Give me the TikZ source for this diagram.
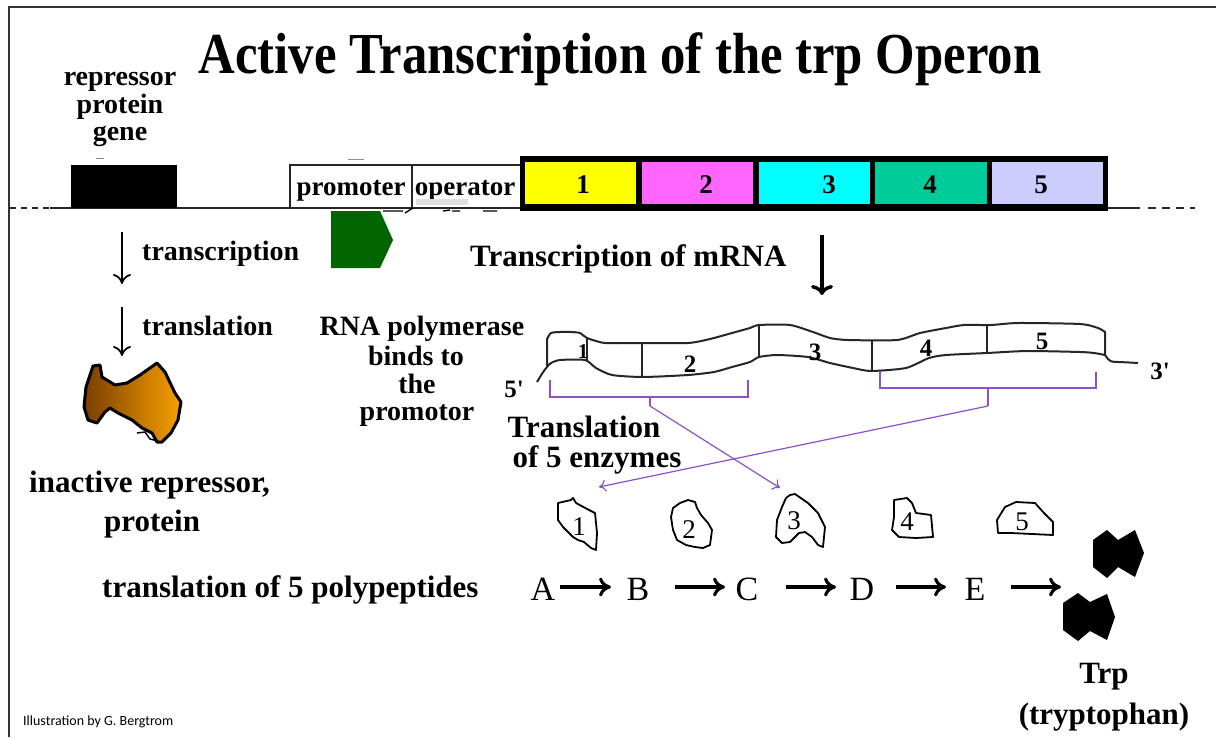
\documentclass[tikz,border=0pt]{standalone}
\usepackage{graphicx}
\usepackage{fontspec}
\setmainfont{Liberation Serif}
\newfontfamily\primefont[Ligatures=TeXOff]{Liberation Serif}
\newfontfamily\creditfont{Carlito}
\usetikzlibrary{arrows.meta}
\definecolor{cellA}{HTML}{FFFF00}
\definecolor{cellB}{HTML}{FF66FF}
\definecolor{cellC}{HTML}{00FFFF}
\definecolor{cellD}{HTML}{00CC99}
\definecolor{cellE}{HTML}{CCCCFF}
\definecolor{polgreen}{HTML}{006400}
\definecolor{brace}{RGB}{140,80,200}
\definecolor{repdark}{HTML}{7A3E00}
\definecolor{replight}{HTML}{F7A000}
\begin{document}
\begin{tikzpicture}[x=1pt,y=-1pt,
  bf/.style={inner sep=0pt,anchor=base,font=\fontsize{#1}{#1}\selectfont\bfseries},
  rm/.style={inner sep=0pt,anchor=base,font=\fontsize{#1}{#1}\selectfont},
  endlabel/.style={inner sep=0pt,anchor=base,font=\primefont\fontsize{25}{25}\selectfont\bfseries},
  dnaline/.style={line width=2pt,black!85},
  downarrow/.style={line width=1.8pt,-{To[length=10pt,width=18pt]}},
  rxnarrow/.style={line width=3.2pt,-{To[length=12pt,width=19pt]}},
  bracket/.style={brace,line width=1.3pt},
  bracearrow/.style={brace,line width=1.2pt,-{To[length=7pt,width=12pt]}},
  strip/.style={line width=2pt,black!85,line join=round},
  enzyme/.style={line width=1.8pt,black,line join=round},
  trpmol/.style={fill=black},
  tick/.style={line width=1pt,black!45}]
\useasboundingbox (0,0) rectangle (1216,737);

% frame
\draw[line width=1.5pt,black!80] (9,737) -- (9,7) -- (1216,7);

% title
\node[anchor=base,inner sep=0pt] (title) at (620,73)
  {\scalebox{0.875}[1]{\fontsize{58}{58}\selectfont\bfseries Active Transcription of the trp Operon}};

% repressor gene label
\node[bf=28] (rep1) at (120,85) {repressor};
\node[bf=28] (rep2) at (120,113) {protein};
\node[bf=28] (rep3) at (120,140) {gene};
\draw[tick] (96,158) -- (104,158);
\draw[tick] (348,159) -- (364,159);

% DNA line
\draw[dnaline,dash pattern=on 6pt off 5pt] (10,208) -- (50,208);
\draw[dnaline] (50,208) -- (1140,208);
\draw[dnaline,dash pattern=on 8pt off 6pt] (1148,208) -- (1195,208);

% repressor gene
\fill[black] (71,165) rectangle (177,208);

% promoter / operator
\draw[line width=1.5pt,black!85] (290,208) -- (290,165) -- (520,165);
\draw[line width=1.5pt,black!85] (412,165) -- (412,208);
\node[bf=27] (prom) at (351,195) {promoter};
\node[bf=27] (oper) at (465,195) {operator};
\fill[black!12] (416,199) rectangle (468,205);
\draw[line width=1.4pt] (383,211) -- (403,211) (405,213) .. controls (409,211) and (410,209) .. (413,208)
  (443,211) -- (450,210) (452,211) -- (460,211) (483,211) -- (497,211);

% structural genes
\fill[black] (520,156) rectangle (1108,211);
\fill[cellA] (525,162) rectangle (636,204);
\fill[cellB] (642,162) rectangle (753,204);
\fill[cellC] (759,162) rectangle (870,204);
\fill[cellD] (875,162) rectangle (987,204);
\fill[cellE] (992,162) rectangle (1103,204);
\node[bf=27] (g1) at (583,193) {1};
\node[bf=27] (g2) at (706,193) {2};
\node[bf=27] (g3) at (829,193) {3};
\node[bf=27] (g4) at (930,193) {4};
\node[bf=27] (g5) at (1041,193) {5};

% RNA polymerase
\fill[polgreen] (331,211) -- (380,211) -- (393,240) -- (380,268) -- (331,268) -- cycle;

% repressor pathway
\coordinate (t1a) at (122,232); \coordinate (t1b) at (122,284);
\coordinate (t2a) at (122,307); \coordinate (t2b) at (122,356);
\draw[downarrow] (t1a) -- (t1b);
\draw[downarrow] (t2a) -- (t2b);
\node[bf=28,anchor=base west] (txc) at (142,260) {transcription};
\node[bf=28,anchor=base west] (tlc) at (142,335) {translation};

% inactive repressor protein
\draw[line width=3pt,left color=repdark,right color=replight,line join=round]
  (93,366) -- (100,365) -- (102,377) -- (115,385) -- (127,383) -- (140,375) -- (157,363)
  -- (165,372) -- (175,393) -- (181,402) -- (178,420) -- (171,433) -- (162,442) -- (157,442)
  -- (152,433) -- (142,428) -- (132,420) -- (118,413) -- (110,408) -- (105,412) -- (97,423)
  -- (88,420) -- (84,407) -- (86,387) -- cycle;
\draw[line width=1.5pt] (137,433) -- (145,432) -- (150,439) -- (158,441);
\node[bf=31,anchor=base west] (inact) at (29,492) {inactive repressor,};
\node[bf=31,anchor=base west] (inact2) at (104,531) {protein};

% mRNA transcription
\node[bf=31,anchor=base west] (tmrna) at (470,266) {Transcription of mRNA};
\coordinate (ma) at (822,235); \coordinate (mb) at (822,295);
\draw[line width=3.5pt,-{To[length=10pt,width=22pt]}] (ma) -- (mb);

% RNA polymerase label
\node[bf=28] (pol1) at (422,335) {RNA polymerase};
\node[bf=28] (pol2) at (416,365) {binds to};
\node[bf=28] (pol3) at (417,393) {the};
\node[bf=28] (pol4) at (417,420) {promotor};

% mRNA strip
\draw[strip] plot[smooth,tension=0.4] coordinates {
  (547,339) (551,333) (560,332) (571,332) (580,333) (587,338) (605,343) (640,343) (688,343)
  (710,339) (732,333) (750,328) (759,325) (790,325) (813,332) (830,338) (848,340) (897,340)
  (920,333) (946,328) (964,325) (991,325) (1018,323) (1080,324) (1098,328) (1105,332)}
  -- plot[smooth,tension=0.4] coordinates {
  (1105,355) (1094,353) (1080,352) (1027,351) (987,353) (946,355) (929,358) (906,368)
  (871,371) (853,368) (830,363) (808,357) (777,355) (759,357) (750,362) (732,367) (714,372)
  (688,375) (643,377) (612,375) (596,368) (585,360) (560,360) (551,363) (547,367)} -- cycle;
\draw[strip] (587,338) -- (587,360);
\draw[strip] (642,343) -- (642,377);
\draw[strip] (759,325) -- (759,357);
\draw[strip] (872,340) -- (872,371);
\draw[strip] (987,325) -- (987,353);
\draw[strip] (547,367) .. controls (543,372) .. (537,382);
\draw[strip] (1105,355) .. controls (1110,362) .. (1120,362) -- (1138,363);
\node[bf=21] (m1) at (583,358) {1};
\node[bf=25] (m2) at (690,372) {2};
\node[bf=25] (m3) at (815,360) {3};
\node[bf=25] (m4) at (926,356) {4};
\node[bf=25] (m5) at (1042,349) {5};
\node[endlabel] (p5) at (514,397) {5'};
\node[endlabel] (p3) at (1160,379) {3'};

% brackets over the coding regions
\draw[bracket] (550,380) -- (550,397) -- (748,397) -- (748,380);
\draw[bracket] (650,397) -- (650,406);
\draw[bracket] (880,372) -- (880,388) -- (1096,388) -- (1096,372);
\draw[bracket] (988,388) -- (988,406);
\coordinate (brL) at (650,406);
\coordinate (brR) at (988,406);

\node[bf=31] (tl1) at (584,437) {Translation};
\node[bf=31] (tl2) at (597,467) {of 5 enzymes};

% enzymes
\draw[enzyme] (558,503) -- (571,500) -- (573,498) -- (576,503) -- (589,510) -- (595,513) -- (597,533)
  -- (596,550) -- (591,548) -- (584,542) -- (578,540) -- (573,537) -- (569,533) -- (563,527) -- (558,520) -- cycle;
\draw[enzyme] (680,503) -- (688,500) -- (695,502) -- (697,508) -- (701,515) -- (708,523) -- (712,530)
  -- (710,545) -- (703,548) -- (695,547) -- (686,545) -- (677,540) -- (673,530) -- (671,517) -- (673,508) -- cycle;
\draw[enzyme] (790,495) -- (795,494) -- (808,503) -- (818,513) -- (825,527) -- (823,547) -- (818,545)
  -- (812,537) -- (805,532) -- (799,533) -- (790,542) -- (782,543) -- (776,537) -- (777,520) -- (782,507) -- (786,498) -- cycle;
\draw[enzyme] (894,500) -- (907,498) -- (912,503) -- (916,513) -- (931,515) -- (933,537) -- (916,538)
  -- (899,537) -- (892,530) -- (894,517) -- cycle;
\draw[enzyme] (1005,507) -- (1016,502) -- (1035,503) -- (1044,513) -- (1053,522) -- (1053,535)
  -- (1011,533) -- (998,533) -- (997,520) -- cycle;
\node[rm=27] (e1) at (579,535) {1};
\node[rm=27] (e2) at (689,538) {2};
\node[rm=27] (e3) at (794,529) {3};
\node[rm=27] (e4) at (907,530) {4};
\node[rm=27] (e5) at (1022,530) {5};
\coordinate (en1) at (599,487);
\coordinate (en3) at (780,488);
\draw[bracearrow] (brL) -- (en3);
\draw[bracearrow] (brR) -- (en1);

% pathway
\node[bf=31,anchor=base west] (poly) at (102,597) {translation of 5 polypeptides};
\node[rm=34] (sA) at (543,600) {A};
\node[rm=34] (sB) at (638,600) {B};
\node[rm=34] (sC) at (747,600) {C};
\node[rm=34] (sD) at (862,600) {D};
\node[rm=34] (sE) at (975,600) {E};
\coordinate (tEnd) at (1061,587);
\draw[rxnarrow] (560,587) -- (611,587);
\draw[rxnarrow] (675,587) -- (725,587);
\draw[rxnarrow] (786,587) -- (836,587);
\draw[rxnarrow] (896,587) -- (946,587);
\draw[rxnarrow] (1011,587) -- (tEnd);

% tryptophan
\fill[trpmol] (1093,540) -- (1107,530) -- (1118,540) -- (1135,530) -- (1144,553) -- (1135,577)
  -- (1118,567) -- (1107,578) -- (1093,567) -- cycle;
\fill[trpmol] (1063,603) -- (1078,593) -- (1090,602) -- (1107,594) -- (1115,617) -- (1107,640)
  -- (1090,631) -- (1078,641) -- (1063,630) -- cycle;
\node[bf=31] (trp) at (1104,683) {Trp};
\node[bf=31] (trpn) at (1104,724) {(tryptophan)};

% credit
\node[inner sep=0pt,anchor=base west,font=\creditfont\fontsize{14}{14}\selectfont] (credit) at (23,725)
  {Illustration by G. Bergtrom};
\end{tikzpicture}
\end{document}
